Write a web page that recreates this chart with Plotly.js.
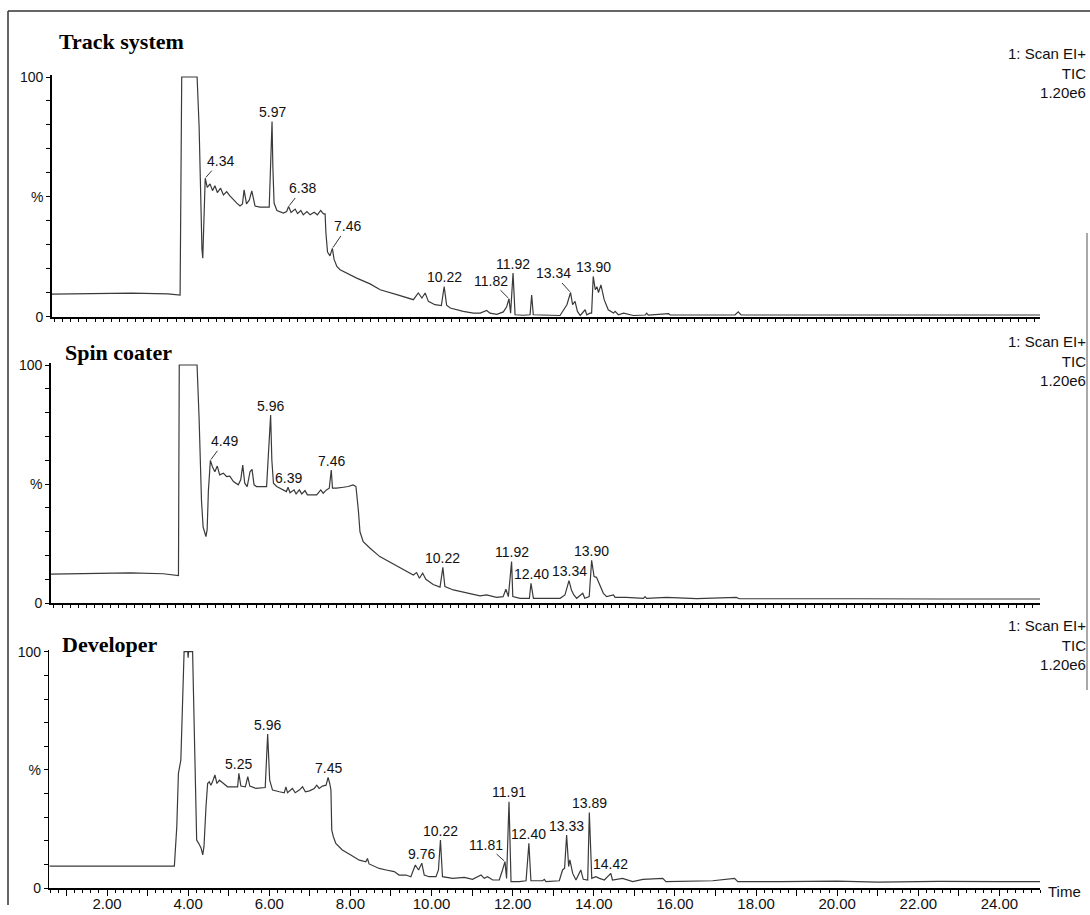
<!DOCTYPE html>
<html><head><meta charset="utf-8">
<script src="https://cdn.plot.ly/plotly-3.0.1.min.js"></script>
<style>html,body{margin:0;padding:0;background:#fff}</style>
</head><body><div id="chart" style="width:1090px;height:915px"></div>
<script>
// ---------------- DATA (retention time in min, relative intensity %) ----------------
const trackSystem = [[0.53,9.4],[1.5,9.6],[2.5,9.8],[3.4,9.5],[3.69,9.0],[3.70,9.0],[3.74,100],[4.12,100],[4.17,79],[4.21,40],[4.24,28],[4.26,24.4],[4.28,40],[4.30,50],[4.32,57.8],[4.37,54.0],[4.44,55.4],[4.50,52.6],[4.56,54.6],[4.62,51.8],[4.70,53.6],[4.77,50.8],[4.85,52.2],[4.93,50.4],[5.02,48.7],[5.10,47.4],[5.18,46.2],[5.24,47.0],[5.28,52.9],[5.34,47.1],[5.41,48.7],[5.47,52.5],[5.55,46.2],[5.67,45.7],[5.90,45.7],[5.93,65.0],[5.97,81.4],[5.99,62.6],[6.02,47.4],[6.09,44.3],[6.25,43.2],[6.33,43.9],[6.38,46.0],[6.44,43.5],[6.54,44.9],[6.60,43.0],[6.68,44.3],[6.74,42.5],[6.83,43.9],[6.91,42.5],[7.01,43.6],[7.09,42.5],[7.17,44.3],[7.24,42.9],[7.28,42.9],[7.30,35.0],[7.34,27.0],[7.40,25.4],[7.43,27.6],[7.46,28.5],[7.50,24.0],[7.57,21.0],[7.65,19.6],[7.81,18.2],[8.06,16.1],[8.39,13.7],[8.64,11.25],[9.05,9.2],[9.46,7.1],[9.58,9.9],[9.67,7.8],[9.75,9.9],[9.83,6.4],[9.99,5.0],[10.15,4.6],[10.22,12.6],[10.28,4.8],[10.37,3.6],[10.69,2.2],[10.94,1.5],[11.11,1.5],[11.27,2.6],[11.35,1.5],[11.52,1.0],[11.68,2.0],[11.76,4.0],[11.82,7.5],[11.86,1.5],[11.92,18.2],[11.97,0.8],[12.18,0.6],[12.34,0.8],[12.38,9.0],[12.42,0.8],[12.75,0.5],[13.08,0.5],[13.25,5.0],[13.34,10.1],[13.39,5.0],[13.45,6.4],[13.51,2.2],[13.58,0.5],[13.70,2.9],[13.74,0.8],[13.82,1.5],[13.86,1.5],[13.90,16.8],[13.95,11.25],[13.99,12.5],[14.03,10.1],[14.09,13.3],[14.17,7.1],[14.27,2.9],[14.40,1.5],[14.44,2.2],[14.52,0.8],[14.65,1.5],[14.89,0.5],[15.18,0.7],[15.22,1.5],[15.26,0.7],[15.76,1.3],[15.80,0.7],[16.5,0.7],[17.40,0.7],[17.48,2.0],[17.55,0.7],[19.0,0.7],[21.0,0.7],[23.0,0.7],[24.93,0.7]];

const spinCoater = [[0.52,12.2],[1.5,12.5],[2.5,12.8],[3.3,12.4],[3.67,11.6],[3.68,11.6],[3.70,100],[4.14,100],[4.19,78],[4.25,43],[4.29,32],[4.36,28],[4.39,31],[4.42,47],[4.47,60],[4.52,57.3],[4.58,55.2],[4.64,57.6],[4.70,53.9],[4.79,54.6],[4.87,53.2],[4.95,53.4],[5.04,51.1],[5.16,49.7],[5.22,51.8],[5.27,58],[5.32,50.4],[5.38,49],[5.45,55.2],[5.50,56.2],[5.55,49.7],[5.61,49],[5.86,49],[5.92,71],[5.96,79],[5.99,60],[6.03,50.4],[6.11,49],[6.23,47.8],[6.35,46.9],[6.39,48.7],[6.44,46.4],[6.54,47.6],[6.59,45.9],[6.67,47.6],[6.73,45.9],[6.81,47.3],[6.87,45.5],[7.10,45.5],[7.20,47.6],[7.26,46.2],[7.34,47.6],[7.41,48.3],[7.46,55.9],[7.49,48.3],[7.59,48.3],[7.76,48.7],[7.88,49],[8.00,49.7],[8.07,49],[8.13,39],[8.17,30],[8.25,25.9],[8.42,23.1],[8.66,19.6],[9.08,15.8],[9.40,12.6],[9.49,11.9],[9.57,12.9],[9.64,10.5],[9.72,12.6],[9.80,10.1],[9.98,7.9],[10.15,6.8],[10.22,15.1],[10.27,7],[10.48,5.6],[10.81,4.2],[11.14,3.1],[11.30,3.5],[11.55,2.5],[11.71,2.8],[11.78,5.9],[11.84,2.8],[11.92,17.5],[11.95,2.8],[12.13,2.1],[12.36,2.1],[12.40,8.4],[12.46,2.1],[12.79,2.1],[13.12,2.1],[13.24,3.5],[13.34,9.5],[13.40,5.6],[13.46,3.5],[13.53,2.1],[13.68,4.2],[13.73,2.1],[13.84,2.8],[13.90,18],[13.96,11.2],[14.02,10.9],[14.10,7.7],[14.19,4.2],[14.27,2.8],[14.44,3.5],[14.48,2.5],[14.76,2.5],[15.18,2.1],[15.22,2.8],[15.26,2.1],[15.75,2.5],[16.5,2.0],[17.48,2.5],[17.55,1.9],[18.56,1.8],[20.5,1.9],[22.5,1.8],[24.99,1.8]];

const developer = [[0.58,9.4],[2.0,9.4],[3.66,9.4],[3.72,26],[3.76,48.6],[3.82,54.2],[3.86,76.7],[3.90,100],[3.99,100],[4.00,97.5],[4.01,100],[4.11,100],[4.13,83.8],[4.18,34.5],[4.21,20.4],[4.26,19],[4.32,16.9],[4.36,14.1],[4.39,17.6],[4.44,34.5],[4.48,44.3],[4.52,45],[4.56,43.6],[4.60,45],[4.66,47.9],[4.71,44.3],[4.77,45.7],[4.85,44.6],[4.97,42.9],[5.18,42.9],[5.22,42.9],[5.25,48.6],[5.30,43.2],[5.41,42.9],[5.47,47.2],[5.52,43.2],[5.67,42.2],[5.90,42.6],[5.94,59.8],[5.96,65.2],[6.01,45.7],[6.08,41.5],[6.25,40.8],[6.37,40.4],[6.41,42.9],[6.45,40.4],[6.57,42.2],[6.64,40.4],[6.74,41.5],[6.82,42.9],[6.89,40.8],[6.99,41.2],[7.11,42.2],[7.17,43.6],[7.23,42.2],[7.31,43.2],[7.40,43.6],[7.45,46.9],[7.49,44.3],[7.52,41.5],[7.54,24.6],[7.58,21.8],[7.64,19],[7.80,16.2],[8.01,14.1],[8.22,11.9],[8.38,11.2],[8.42,12.6],[8.46,10.3],[8.71,8.4],[8.88,7.75],[9.08,7.05],[9.20,5.6],[9.37,5.6],[9.49,4.9],[9.60,9.85],[9.68,7.75],[9.76,10.6],[9.82,5.6],[9.94,4.9],[10.11,4.9],[10.17,7.75],[10.22,20.4],[10.27,4.9],[10.52,4.2],[10.81,4.6],[11.01,3.8],[11.22,5.6],[11.30,4.2],[11.38,4.9],[11.51,3.5],[11.67,3.5],[11.75,7.75],[11.81,11.3],[11.85,4.2],[11.89,24.6],[11.91,36.6],[11.96,2.8],[12.16,2.8],[12.33,3.2],[12.40,19],[12.45,3.2],[12.74,3.2],[12.78,3.8],[12.82,2.8],[13.15,3.2],[13.23,7.75],[13.28,8.45],[13.33,22.5],[13.38,9.2],[13.41,12],[13.48,6.3],[13.56,3.5],[13.68,7.75],[13.74,3.8],[13.85,3.5],[13.87,19],[13.89,32],[13.95,4.2],[14.05,4.9],[14.14,4.2],[14.26,3.5],[14.42,6.3],[14.46,3.5],[14.71,4.2],[14.96,2.8],[15.21,3.8],[15.70,4.2],[15.78,2.8],[16.93,3.2],[17.47,4.2],[17.55,2.8],[18.6,2.8],[20.0,3.0],[21.0,2.6],[22.5,2.9],[24.0,2.8],[25.0,2.8]];

const trackPeaks = [4.34,5.97,6.38,7.46,10.22,11.82,11.92,13.34,13.90];
const spinPeaks  = [4.49,5.96,6.39,7.46,10.22,11.92,12.40,13.34,13.90];
const devPeaks   = [5.25,5.96,7.45,9.76,10.22,11.81,11.91,12.40,13.33,13.89,14.42];

const panelNames = ['Track system','Spin coater','Developer'];
const infoLines  = ['1: Scan EI+','TIC','1.20e6'];
const xTickVals  = [2,4,6,8,10,12,14,16,18,20,22,24];
const yTickVals  = [0,50,100];
const yTickText  = ['0','%','100'];

// ---------------- LAYOUT / STYLE ----------------
const W = 1090, H = 915;
const fx = px => px / W, fy = py => 1 - py / H;
const YMAX = 100.8;
const geom = [
  {x0:51.7, x1:1040, xr:[0.53,24.93], y0:316.7, ppp:2.397, title:[56.7,41.8], info:43.5},
  {x0:50.7, x1:1040, xr:[0.52,24.99], y0:603.3, ppp:2.383, title:[63.3,352],  info:331},
  {x0:49.3, x1:1040, xr:[0.577,25.0], y0:888.3, ppp:2.366, title:[60,644],    info:615}
];
const leaders = [
  {'4.34':[15,-17],'6.38':[14,-18],'7.46':[15,-22],'11.82':[-18,-18],'13.34':[-17,-19]},
  {'4.49':[14,-19]},
  {'11.81':[-19,-17]}
];
const series = [trackSystem, spinCoater, developer];
const peakSets = [trackPeaks, spinPeaks, devPeaks];
const lab = 'Liberation Sans, Arial, sans-serif';

const traces = [], annotations = [], layout = {
  width: W, height: H, margin:{l:0,r:0,t:0,b:0},
  paper_bgcolor:'#fff', plot_bgcolor:'rgba(0,0,0,0)', showlegend:false,
  font:{family:lab, size:14, color:'#111'}
};

// major ticks each minute, minor every 0.2
const majorVals = []; for (let v = 1; v <= 24; v++) majorVals.push(v);

series.forEach((data, i) => {
  const sfx = i === 0 ? '' : String(i + 1);
  const g = geom[i];
  traces.push({
    type:'scatter', mode:'lines', x:data.map(d=>d[0]), y:data.map(d=>d[1]),
    xaxis:'x'+sfx, yaxis:'y'+sfx, line:{color:'#3a3a3a', width:1.2}, hoverinfo:'skip'
  });
  const isLast = i === 2;
  layout['xaxis'+sfx] = {
    domain:[fx(g.x0), fx(g.x1)], range:g.xr, anchor:'y'+sfx,
    showline:true, linecolor:'#000', linewidth:2, showgrid:false, zeroline:false,
    ticks:'outside', ticklen:6, tickwidth:1, tickcolor:'#000',
    tickmode:'array', tickvals:majorVals,
    ticktext:majorVals.map(v => (isLast && xTickVals.includes(v)) ? v.toFixed(2) : ''),
    showticklabels:isLast, tickfont:{family:lab, size:15, color:'#111'},
    ticklabelstandoff:-5,
    minor:{tickmode:'linear', tick0:0, dtick:0.2, ticks:'outside', ticklen:3, tickwidth:1, tickcolor:'#000', showgrid:false}
  };
  const top = g.y0 - YMAX * g.ppp;
  layout['yaxis'+sfx] = {
    domain:[fy(g.y0), fy(top)], range:[0, YMAX], anchor:'x'+sfx,
    showline:true, linecolor:'#000', linewidth:1.5, showgrid:false, zeroline:false,
    ticks:'outside', ticklen:4, tickwidth:1, tickcolor:'#000',
    tickmode:'array', tickvals:yTickVals, ticktext:yTickText,
    tickfont:{family:lab, size:14, color:'#111'},
    minor:{tickmode:'linear', tick0:0, dtick:10, ticks:'outside', ticklen:4, tickwidth:1, tickcolor:'#000', showgrid:false}
  };
  // panel title
  annotations.push({xref:'paper', yref:'paper', x:fx(g.title[0]), y:fy(g.title[1]),
    xanchor:'left', yanchor:'middle', showarrow:false, text:panelNames[i],
    font:{family:'Liberation Serif, Times New Roman, serif', size:22, color:'#000', weight:'bold'}});
  // info block
  annotations.push({xref:'paper', yref:'paper', x:fx(1088), y:fy(g.info), xanchor:'right', yanchor:'top',
    align:'right', showarrow:false, text:infoLines.join('<br>'), font:{family:lab, size:15, color:'#111'}});
  // peak labels: height looked up from the trace
  peakSets[i].forEach(rt => {
    let best = null;
    data.forEach(d => { if (Math.abs(d[0]-rt) <= 0.045 && (!best || d[1] > best[1])) best = d; });
    const key = rt.toFixed(2);
    const ld = leaders[i][key];
    const a = {xref:'x'+sfx, yref:'y'+sfx, x:best[0], y:best[1], text:key,
      font:{family:lab, size:14, color:'#111'}};
    if (ld) Object.assign(a, {showarrow:true, arrowhead:0, arrowwidth:1, arrowcolor:'#333', ax:ld[0], ay:ld[1], standoff:1});
    else Object.assign(a, {showarrow:false, xanchor:'center', yanchor:'middle', yshift:9.5});
    annotations.push(a);
  });
});

annotations.push({xref:'paper', yref:'paper', x:fx(1046), y:fy(891.5), xanchor:'left', yanchor:'middle',
  showarrow:false, text:'Time', font:{family:lab, size:15, color:'#111'}});

layout.annotations = annotations;
layout.shapes = [
  {type:'line', xref:'paper', yref:'paper', x0:fx(8), x1:fx(1090), y0:fy(11), y1:fy(11), line:{color:'#333', width:1.5}},
  {type:'line', xref:'paper', yref:'paper', x0:fx(8), x1:fx(8), y0:fy(11), y1:fy(905), line:{color:'#333', width:1.5}},
  {type:'line', xref:'paper', yref:'paper', x0:fx(1087), x1:fx(1087), y0:fy(233), y1:fy(690), line:{color:'#555', width:1}}
];

Plotly.newPlot('chart', traces, layout, {staticPlot:true, displayModeBar:false});
</script></body></html>
